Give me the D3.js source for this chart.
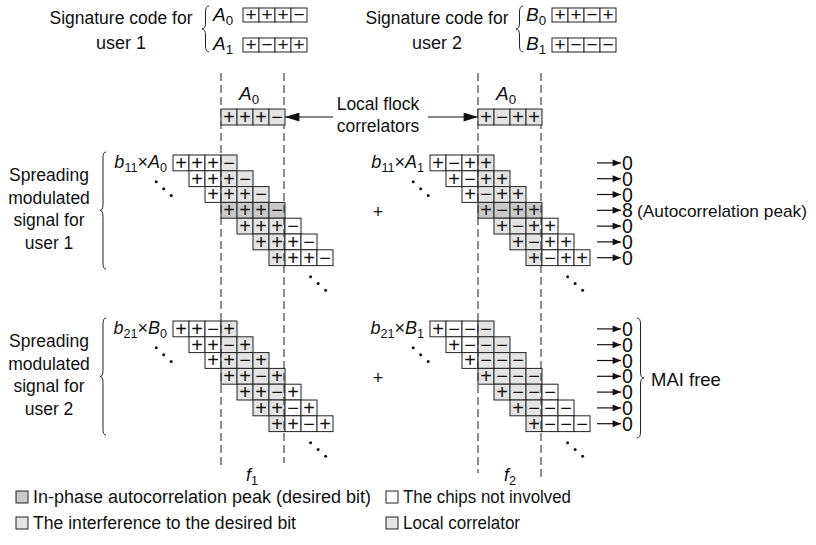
<!DOCTYPE html>
<html>
<head>
<meta charset="utf-8">
<script src="https://cdn.jsdelivr.net/npm/d3@7"></script>
<style>
  html, body { margin: 0; padding: 0; background: #fff; }
  svg { display: block; }
  text { font-family: "Liberation Sans", Arial, Helvetica, sans-serif; fill: #111; }
</style>
</head>
<body>
<svg id="chart" width="816" height="545"></svg>
<script>
// ---------------- DATA ----------------
const codeA0 = ["+", "+", "+", "\u2212"];
const codeA1 = ["+", "\u2212", "+", "+"];
const codeB0 = ["+", "+", "\u2212", "+"];
const codeB1 = ["+", "\u2212", "\u2212", "\u2212"];
const correlatorLeft = ["+", "+", "+", "\u2212"];
const correlatorRight = ["+", "\u2212", "+", "+"];
const outputsUser1 = [0, 0, 0, 8, 0, 0, 0];
const outputsUser2 = [0, 0, 0, 0, 0, 0, 0];
const peakRow = 3;
const peakNote = "(Autocorrelation peak)";
const userLabels = [["Spreading", "modulated", "signal for", "user 1"], ["Spreading", "modulated", "signal for", "user 2"]];
const legendItems = [
  { label: "In-phase autocorrelation peak (desired bit)", kind: "peak", w: 338 },
  { label: "The interference to the desired bit", kind: "interf", w: 263 },
  { label: "The chips not involved", kind: "none", w: 168 },
  { label: "Local correlator", kind: "corr", w: 117 }
];

// ---------------- STYLE ----------------
const C = { peak: "#c9c9c9", interf: "#e4e4e4", none: "#ffffff", corr: "#e4e4e4", line: "#222" };
const CW = 16, RH = 15.8;

const svg = d3.select("#chart");

function brace(x, y1, y2, w) {
  const ym = (y1 + y2) / 2, r = Math.min(6, (y2 - y1) / 6), xm = x + w / 2;
  return `M${x + w},${y1} Q${xm},${y1} ${xm},${y1 + r} L${xm},${ym - r} Q${xm},${ym} ${x},${ym}` +
         ` Q${xm},${ym} ${xm},${ym + r} L${xm},${y2 - r} Q${xm},${y2} ${x + w},${y2}`;
}

function subLabel(g, x, y, parts, size, anchor) {
  const t = g.append("text").attr("x", x).attr("y", y).attr("font-size", size)
    .attr("text-anchor", anchor || "start");
  parts.forEach(p => {
    const ts = t.append("tspan").text(p.t);
    if (p.i) ts.attr("font-style", "italic");
    if (p.sub) ts.attr("font-size", size * 0.7).attr("dy", size * 0.22);
    if (p.up) ts.attr("dy", -size * 0.22);
  });
  return t;
}

function codeBox(x0, y0, code, fill, h, fs) {
  const xs = d3.scaleLinear().domain([0, 1]).range([x0, x0 + CW]);
  const g = svg.append("g");
  code.forEach((s, j) => {
    g.append("rect").attr("x", xs(j)).attr("y", y0).attr("width", CW).attr("height", h)
      .attr("fill", fill).attr("stroke", C.line).attr("stroke-width", 1);
    g.append("text").attr("x", xs(j) + CW / 2).attr("y", y0 + h / 2 + fs * 0.34)
      .attr("text-anchor", "middle").attr("font-size", fs).text(s);
  });
}

// ---------- Signature codes (top) ----------
[[121, 202, 213, 243, "A", codeA0, codeA1, "1"], [437, 516, 526, 552, "B", codeB0, codeB1, "2"]]
  .forEach(([cx, bx, lx, boxX, L, c0, c1, u]) => {
    svg.append("text").attr("x", cx).attr("y", 24).attr("text-anchor", "middle").attr("font-size", 18)
      .attr("textLength", 143).attr("lengthAdjust", "spacingAndGlyphs").text("Signature code for");
    svg.append("text").attr("x", cx).attr("y", 49).attr("text-anchor", "middle").attr("font-size", 18).text("user " + u);
    svg.append("path").attr("d", brace(bx, 6, 52, 7)).attr("fill", "none").attr("stroke", C.line).attr("stroke-width", 1);
    subLabel(svg, lx, 21, [{ t: L, i: true }, { t: "0", sub: true }], 19);
    subLabel(svg, lx, 50, [{ t: L, i: true }, { t: "1", sub: true }], 19);
    codeBox(boxX, 8, c0, "#fff", 14, 19);
    codeBox(boxX, 38, c1, "#fff", 14, 19);
  });

// ---------- Blocks ----------
const blocks = [
  { x0: 173, y0: 155, code: codeA0, dark: peakRow, lab: [{ t: "b", i: true }, { t: "11", sub: true }, { t: "\u00d7", up: true }, { t: "A", i: true }, { t: "0", sub: true }] },
  { x0: 430, y0: 155, code: codeA1, dark: peakRow, lab: [{ t: "b", i: true }, { t: "11", sub: true }, { t: "\u00d7", up: true }, { t: "A", i: true }, { t: "1", sub: true }] },
  { x0: 173, y0: 321, code: codeB0, dark: -1, lab: [{ t: "b", i: true }, { t: "21", sub: true }, { t: "\u00d7", up: true }, { t: "B", i: true }, { t: "0", sub: true }] },
  { x0: 430, y0: 321, code: codeB1, dark: -1, lab: [{ t: "b", i: true }, { t: "21", sub: true }, { t: "\u00d7", up: true }, { t: "B", i: true }, { t: "1", sub: true }] }
];

blocks.forEach(b => {
  const xs = d3.scaleLinear().domain([0, 1]).range([b.x0, b.x0 + CW]);
  const ys = d3.scaleLinear().domain([0, 1]).range([b.y0, b.y0 + RH]);
  const g = svg.append("g");
  const cells = [];
  d3.range(7).forEach(i => b.code.forEach((s, j) => cells.push({ i, col: i + j, s })));
  g.selectAll("rect").data(cells).join("rect")
    .attr("x", d => xs(d.col)).attr("y", d => ys(d.i)).attr("width", CW).attr("height", RH)
    .attr("fill", d => d.col >= 3 && d.col <= 6 ? (d.i === b.dark ? C.peak : C.interf) : C.none)
    .attr("stroke", C.line).attr("stroke-width", 1);
  g.selectAll("text.s").data(cells).join("text").attr("class", "s")
    .attr("x", d => xs(d.col) + CW / 2).attr("y", d => ys(d.i) + RH / 2 + 6.8)
    .attr("text-anchor", "middle").attr("font-size", 20).text(d => d.s);
  subLabel(svg, xs(0) - 6, ys(0) + 13, b.lab, 18, "end");
  [0, 1, 2].forEach(k => {
    svg.append("circle").attr("cx", xs(-1.05) + k * 7.5).attr("cy", ys(1.7) + k * 6.8).attr("r", 1.5).attr("fill", "#111");
    svg.append("circle").attr("cx", xs(8.6) + k * 7.5).attr("cy", ys(7.7) + k * 6.8).attr("r", 1.5).attr("fill", "#111");
  });
});

// ---------- Dashed correlator window lines ----------
[[173, 467, 463], [430, 473, 477]].forEach(([x0, e1, e2]) => {
  const xs = d3.scaleLinear().domain([0, 1]).range([x0, x0 + CW]);
  [[xs(3), e1], [xs(7) - 1, e2]].forEach(([x, e]) => {
    svg.append("line").attr("x1", x).attr("x2", x).attr("y1", 73).attr("y2", e)
      .attr("stroke", "#333").attr("stroke-width", 1.1).attr("stroke-dasharray", "8,4");
  });
  subLabel(svg, (xs(3) + xs(7)) / 2 - 4, 100, [{ t: "A", i: true }, { t: "0", sub: true }], 19, "middle");
});

codeBox(221, 109, correlatorLeft, C.corr, 16, 20);
codeBox(478, 109, correlatorRight, C.corr, 16, 20);

const defs = svg.append("defs");
defs.append("marker").attr("id", "ah").attr("viewBox", "0 0 12 10").attr("refX", 12).attr("refY", 5)
  .attr("markerWidth", 13).attr("markerHeight", 7).attr("markerUnits", "userSpaceOnUse").attr("orient", "auto")
  .append("path").attr("d", "M0,0 L12,5 L0,10 z").attr("fill", "#111");
defs.append("marker").attr("id", "ah2").attr("viewBox", "0 0 16 10").attr("refX", 16).attr("refY", 5)
  .attr("markerWidth", 20).attr("markerHeight", 9).attr("markerUnits", "userSpaceOnUse").attr("orient", "auto")
  .append("path").attr("d", "M0,0 L16,5 L0,10 z").attr("fill", "#111");

svg.append("text").attr("x", 378).attr("y", 110).attr("text-anchor", "middle").attr("font-size", 17.5).text("Local flock");
svg.append("text").attr("x", 378).attr("y", 132).attr("text-anchor", "middle").attr("font-size", 17.5).text("correlators");
svg.append("line").attr("x1", 333).attr("x2", 285).attr("y1", 117).attr("y2", 117).attr("stroke", "#111").attr("marker-end", "url(#ah2)");
svg.append("line").attr("x1", 428).attr("x2", 478).attr("y1", 117).attr("y2", 117).attr("stroke", "#111").attr("marker-end", "url(#ah2)");

svg.append("text").attr("x", 378).attr("y", 218).attr("text-anchor", "middle").attr("font-size", 18).text("+");
svg.append("text").attr("x", 378).attr("y", 384).attr("text-anchor", "middle").attr("font-size", 18).text("+");

[[155, outputsUser1], [321, outputsUser2]].forEach(([y0, outs]) => {
  const ys = d3.scaleLinear().domain([0, 1]).range([y0, y0 + RH]);
  outs.forEach((v, i) => {
    const y = ys(i) + RH / 2;
    svg.append("line").attr("x1", 597).attr("x2", 621).attr("y1", y).attr("y2", y).attr("stroke", "#111").attr("stroke-width", 1.2).attr("marker-end", "url(#ah)");
    svg.append("text").attr("x", 622).attr("y", y + 7).attr("font-size", 19.5).text(v);
    if (i === peakRow && v !== 0) {
      svg.append("text").attr("x", 637).attr("y", y + 6.5).attr("font-size", 17)
        .attr("textLength", 170).attr("lengthAdjust", "spacingAndGlyphs").text(peakNote);
    }
  });
});
svg.append("path").attr("d", brace(644, 318, 438, -7)).attr("fill", "none").attr("stroke", C.line).attr("stroke-width", 1);
svg.append("text").attr("x", 651).attr("y", 386).attr("font-size", 18.5).text("MAI free");

[[155, userLabels[0]], [321, userLabels[1]]].forEach(([y0, lines]) => {
  lines.forEach((t, k) => svg.append("text").attr("x", 49).attr("y", y0 + 26 + k * 22.6).attr("text-anchor", "middle").attr("font-size", 17.5).text(t));
  svg.append("path").attr("d", brace(100, y0 - 3, y0 + 114, 6)).attr("fill", "none").attr("stroke", C.line).attr("stroke-width", 1);
});

subLabel(svg, 252, 481, [{ t: "f", i: true }, { t: "1", sub: true }], 18, "middle");
subLabel(svg, 510, 481, [{ t: "f", i: true }, { t: "2", sub: true }], 18, "middle");

legendItems.forEach((d, k) => {
  const x = k < 2 ? 16 : 386, y = k % 2 === 0 ? 491 : 517;
  svg.append("rect").attr("x", x).attr("y", y).attr("width", 12).attr("height", 12)
    .attr("fill", C[d.kind]).attr("stroke", C.line).attr("stroke-width", 1);
  svg.append("text").attr("x", x + 17).attr("y", y + 12).attr("font-size", 18)
    .attr("textLength", d.w).attr("lengthAdjust", "spacingAndGlyphs").text(d.label);
});
</script>
</body>
</html>
